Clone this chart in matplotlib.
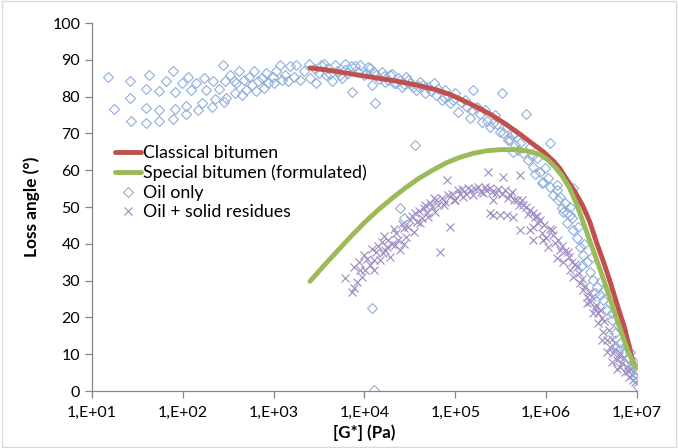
import numpy as np
import matplotlib
matplotlib.use("Agg")
import matplotlib.pyplot as plt
from matplotlib.ticker import FixedLocator, FuncFormatter, NullLocator

plt.rcParams['font.family'] = ['Lato', 'DejaVu Sans']

# lines, x given as log10(|G*| / Pa)
classical_log_g = [3.40, 3.60, 3.80, 4.00, 4.20, 4.40, 4.60, 4.80, 4.95, 5.10,
                   5.25, 5.40, 5.55, 5.70, 5.85, 5.97, 6.08, 6.15, 6.24, 6.32,
                   6.40, 6.48, 6.56, 6.64, 6.72, 6.80, 6.86, 6.92, 6.96]
classical_angle = [87.8, 87.2, 86.4, 85.6, 84.8, 84.0, 83.0, 81.8, 80.5, 78.8,
                   77.0, 75.0, 72.6, 70.0, 67.2, 65.0, 62.5, 60.5, 57.0, 54.0,
                   50.5, 46.0, 40.0, 34.5, 28.5, 22.0, 17.5, 11.5, 7.5]

special_log_g = [3.40, 3.55, 3.70, 3.85, 4.00, 4.15, 4.30, 4.45, 4.60, 4.75,
                 4.90, 5.05, 5.20, 5.35, 5.50, 5.65, 5.80, 5.93, 6.02, 6.10,
                 6.18, 6.26, 6.34, 6.42, 6.50, 6.58, 6.66, 6.74, 6.82, 6.90,
                 6.98]
special_angle = [29.8, 34.0, 38.0, 42.0, 45.8, 49.2, 52.3, 55.2, 57.8, 60.0,
                 62.0, 63.5, 64.6, 65.3, 65.6, 65.6, 65.2, 64.3, 62.8, 60.8,
                 58.3, 55.0, 50.5, 45.0, 39.5, 34.0, 28.3, 22.3, 16.5, 11.0,
                 6.5]

# Oil only (diamonds)
oil_log_g = [
    1.18, 1.24, 1.42, 1.42, 1.43, 1.59, 1.59, 1.59, 1.63, 1.74, 1.74, 1.74,
    1.81, 1.89, 1.91, 1.91, 1.89, 1.99, 2.06, 2.03, 2.03, 2.09, 2.15, 2.17,
    2.21, 2.23, 2.26, 2.32, 2.33, 2.35, 2.40, 2.44, 2.45, 2.46, 2.48, 2.52,
    2.56, 2.57, 2.59, 2.62, 2.65, 2.67, 2.70, 2.73, 2.76, 2.78, 2.81, 2.83,
    2.87, 2.89, 2.92, 2.94, 2.99, 3.00, 3.03, 3.07, 3.09, 3.13, 3.16, 3.18,
    3.22, 3.25, 3.29, 3.33, 3.39, 3.40, 3.47, 3.55, 3.58, 3.64, 3.68, 3.73,
    3.79, 3.79, 3.75, 3.86, 3.90, 3.95, 3.99, 4.06, 4.08, 4.12, 4.13, 4.19,
    4.23, 4.28, 4.32, 4.37, 4.41, 4.46, 4.50, 4.56, 4.57, 4.61, 4.67, 4.70,
    4.76, 4.79, 4.85, 4.89, 4.94, 5.00, 5.03, 5.11, 5.16, 5.20, 5.24, 5.29,
    5.33, 5.38, 5.44, 5.49, 5.51, 5.57, 5.60, 5.66, 5.64, 5.78, 6.04,
    3.45, 3.50, 3.52, 3.60, 3.62, 3.70, 3.82, 3.85, 3.93, 4.02, 4.04, 4.10,
    4.16, 4.21, 4.26, 4.30, 4.35, 4.39, 4.44, 4.48, 4.53, 4.59, 4.64, 4.73,
    4.81, 4.87, 4.92, 4.97, 5.06, 5.13, 5.18, 5.27, 5.35, 5.41, 5.46, 5.53,
    5.58, 5.66, 5.71, 5.75, 5.82, 5.80, 5.86, 5.90, 5.93, 5.99, 5.97, 6.02,
    6.04, 6.08, 6.12, 6.13, 6.17, 6.21, 6.23, 6.26, 6.28, 6.30, 5.95, 6.12,
    6.15, 6.19, 6.23, 6.30, 6.34, 6.37, 6.41, 6.39, 6.45, 6.48, 6.52, 6.56,
    6.54, 6.59, 6.63, 6.67, 6.72, 6.72, 6.76, 6.81, 6.85, 6.90, 6.96, 6.99,
    7.01, 6.98, 6.94, 6.77, 4.08, 4.10, 4.39, 4.43,
    6.35, 6.42, 6.50, 6.60, 6.65, 6.70, 6.79, 6.83, 6.88, 6.92, 6.97, 7.00,
    6.26, 5.88, 5.84, 5.69, 5.62,
]
oil_angle = [
    85.4, 76.6, 84.2, 79.6, 73.4, 82.0, 77.0, 72.9, 86.0, 81.5, 76.4, 73.4,
    84.2, 86.9, 81.3, 76.6, 73.8, 83.8, 85.4, 77.4, 75.4, 81.8, 83.8, 76.4,
    78.2, 85.0, 81.8, 77.3, 84.2, 79.3, 82.2, 88.6, 78.6, 84.2, 79.5, 85.9,
    84.2, 80.9, 83.7, 87.0, 80.4, 84.5, 81.8, 85.4, 83.2, 86.9, 81.4, 84.2,
    85.0, 82.3, 86.3, 83.8, 85.4, 83.7, 86.9, 88.6, 84.5, 85.9, 84.2, 88.2,
    85.4, 88.6, 84.5, 86.9, 89.0, 85.0, 83.7, 89.0, 85.9, 84.2, 88.6, 85.9,
    89.0, 87.2, 85.0, 81.3, 88.2, 88.6, 85.9, 87.7, 83.2, 78.2, 85.9, 86.8,
    84.1, 85.9, 83.6, 85.0, 82.7, 85.4, 83.6, 66.8, 81.8, 84.1, 80.9, 82.7,
    83.6, 80.4, 79.1, 81.8, 78.2, 80.9, 75.9, 79.1, 74.1, 81.8, 77.3, 73.2,
    76.4, 71.8, 75.0, 70.5, 80.9, 71.8, 68.2, 66.8, 65.0, 75.3, 67.3,
    87.5, 86.5, 88.5, 87.8, 86.2, 87.0, 86.5, 88.4, 86.8, 86.3, 88.0, 86.6,
    84.8, 85.5, 84.5, 86.2, 83.8, 84.6, 83.3, 84.4, 82.5, 82.9, 83.1, 81.5,
    82.1, 79.8, 80.2, 79.0, 78.5, 77.2, 76.5, 75.4, 73.5, 72.8, 72.5, 70.2,
    68.2, 70.0, 67.3, 64.6, 66.4, 62.8, 61.0, 63.2, 59.6, 60.5, 56.9, 57.8,
    55.5, 53.3, 54.6, 51.9, 49.6, 51.0, 48.3, 50.1, 46.9, 55.1, 56.4, 56.0,
    52.8, 48.7, 45.6, 43.8, 41.5, 39.2, 37.0, 34.2, 35.1, 32.4, 30.2, 28.3,
    26.5, 26.1, 24.7, 22.0, 21.1, 19.3, 15.7, 13.0, 10.2, 8.9, 6.6, 4.8,
    1.2, 3.5, 7.5, 12.0, 22.6, 0.3, 49.6, 46.9,
    44.5, 40.0, 36.5, 30.0, 27.5, 24.0, 18.0, 16.5, 12.5, 10.5, 8.0, 6.0,
    47.8, 59.0, 64.0, 65.5, 69.5,
]

# Oil + solid residues (crosses)
residue_log_g = [
    3.86, 3.88, 3.79, 3.88, 3.97, 3.99, 3.95, 4.06, 4.10, 4.17, 4.19, 4.13,
    4.23, 4.26, 4.28, 4.34, 4.35, 4.39, 4.43, 4.46, 4.50, 4.54, 4.56, 4.61,
    4.65, 4.70, 4.72, 4.78, 4.79, 4.83, 4.87, 4.91, 4.92, 4.94, 5.00, 5.03,
    5.09, 5.14, 5.20, 5.25, 5.31, 5.36, 5.38, 5.42, 5.45, 5.49, 5.53, 5.55,
    5.57, 5.71, 5.63, 5.71, 5.86, 5.97,
    5.34, 5.42, 5.38, 5.60, 5.68, 5.75, 5.82, 5.88, 5.82, 5.86, 5.91, 5.95,
    6.00, 6.06, 6.02, 6.10, 6.15, 6.12, 6.24, 6.19, 6.26, 6.30, 6.34, 6.37,
    6.41, 6.45, 6.48, 6.54, 6.57, 6.61,
    6.45, 6.52, 6.57, 6.63, 6.67, 6.70, 6.74, 6.78, 6.81, 6.87, 6.91, 6.96,
    6.61, 6.67, 6.72, 6.78, 6.89, 6.94, 6.81, 6.76,
    3.92, 3.94, 4.01, 4.03, 4.08, 4.11, 4.15, 4.20, 4.22, 4.25, 4.30, 4.32,
    4.37, 4.41, 4.44, 4.48, 4.52, 4.58, 4.60, 4.63, 4.67, 4.69, 4.74, 4.76,
    4.81, 4.85, 4.89, 4.96, 4.98, 5.05, 5.07, 5.12, 5.17, 5.22, 5.28, 5.33,
    5.40, 5.47, 5.51, 5.58, 5.62, 5.65, 5.70, 5.73, 5.78, 5.80, 5.85, 5.90,
    5.93, 5.98, 6.04, 6.08, 6.13, 6.17, 6.21, 6.25, 6.28, 6.32, 6.36, 6.39,
    6.43, 6.47, 6.50, 6.55, 6.59, 6.64, 6.69, 6.73, 6.76, 6.80, 6.84, 6.86,
    6.90, 6.93, 6.98,
]
residue_angle = [
    26.9, 27.9, 30.6, 33.8, 31.1, 37.0, 32.9, 34.2, 32.9, 35.6, 40.6, 37.9,
    38.3, 41.0, 36.5, 39.7, 42.9, 38.3, 44.2, 41.9, 46.5, 43.3, 48.3, 45.6,
    49.6, 47.4, 51.0, 48.7, 51.9, 37.9, 50.5, 57.3, 53.3, 44.7, 51.9, 54.6,
    52.8, 55.1, 53.3, 55.5, 53.7, 59.6, 55.1, 47.8, 53.7, 47.8, 58.2, 54.6,
    47.8, 58.7, 47.4, 43.8, 44.7, 41.0,
    54.6, 51.9, 48.3, 53.3, 51.9, 50.5, 49.2, 47.4, 43.8, 41.0, 45.6, 42.9,
    41.5, 43.8, 39.2, 40.1, 38.3, 36.1, 37.9, 35.1, 32.9, 31.1, 33.8, 29.3,
    27.4, 25.6, 24.3, 22.5, 21.1, 19.8,
    23.8, 21.1, 18.4, 16.1, 13.9, 12.0, 10.2, 8.4, 6.6, 5.2, 3.9, 3.0,
    13.9, 10.7, 8.0, 6.1, 6.6, 4.3, 10.2, 13.0,
    29.5, 35.0, 33.0, 36.0, 38.5, 35.5, 39.5, 37.5, 42.0, 39.0, 40.0, 44.0,
    41.0, 45.5, 40.0, 44.5, 47.5, 46.0, 49.0, 47.0, 50.5, 48.5, 50.0, 52.5,
    50.5, 52.5, 51.5, 53.5, 52.0, 53.5, 55.0, 53.5, 54.5, 54.8, 54.0, 55.5,
    54.0, 55.0, 53.5, 52.5, 54.0, 52.0, 50.5, 52.0, 50.0, 48.0, 48.5, 47.5,
    46.5, 45.0, 44.0, 42.5, 41.0, 39.5, 38.0, 36.5, 35.0, 34.5, 32.0, 30.5,
    28.5, 27.0, 25.5, 23.5, 22.0, 19.0, 16.5, 14.0, 11.5, 9.5, 7.5, 9.0,
    5.5, 6.0, 2.5,
]

decades = [1, 2, 3, 4, 5, 6, 7]

fig = plt.figure(figsize=(6.78, 4.48), dpi=100)
ax = fig.add_axes([0.1357, 0.1272, 0.8038, 0.8214])

oil_col = '#8EAEDB'
res_col = '#9C8AC0'

ax.plot(10 ** np.array(residue_log_g), residue_angle, linestyle='none',
        marker='x', markersize=6, markeredgewidth=0.8, color=res_col)
ax.plot(10 ** np.array(oil_log_g), oil_angle, linestyle='none',
        marker='D', markersize=5.4, markerfacecolor='none',
        markeredgewidth=0.8, markeredgecolor=oil_col)
l1, = ax.plot(10 ** np.array(classical_log_g), classical_angle,
              color='#C0504D', linewidth=3.5, solid_capstyle='round',
              solid_joinstyle='round')
l2, = ax.plot(10 ** np.array(special_log_g), special_angle,
              color='#9BBB59', linewidth=3.5, solid_capstyle='round',
              solid_joinstyle='round')

h3, = ax.plot([], [], linestyle='none', marker='D', markersize=5.4,
              markerfacecolor='none', markeredgewidth=0.8,
              markeredgecolor=oil_col)
h4, = ax.plot([], [], linestyle='none', marker='x', markersize=6,
              markeredgewidth=0.8, color=res_col)

ax.set_xscale('log')
ax.set_xlim(10 ** decades[0], 10 ** decades[-1])
ax.set_ylim(0, 100)
ax.xaxis.set_major_locator(FixedLocator([10.0 ** d for d in decades]))
ax.xaxis.set_minor_locator(NullLocator())
ax.xaxis.set_major_formatter(FuncFormatter(lambda v, p: '1,E+%02d' % round(np.log10(v))))
ax.set_yticks(range(0, 101, 10))

for s in ['top', 'right']:
    ax.spines[s].set_visible(False)
for s in ['left', 'bottom']:
    ax.spines[s].set_color('#868686')
    ax.spines[s].set_linewidth(0.9)
ax.tick_params(axis='both', colors='#868686', labelcolor='black',
               labelsize=11.5, length=5, width=0.9, direction='out')
ax.tick_params(axis='x', pad=6)

ax.set_xlabel('[G*] (Pa)', fontsize=12.2, fontweight='bold', labelpad=3)
ax.set_ylabel('Loss angle (°)', fontsize=12.4, fontweight='bold', labelpad=9)

ax.legend([l1, l2, h3, h4],
          ['Classical bitumen', 'Special bitumen (formulated)',
           'Oil only', 'Oil + solid residues'],
          loc='upper left', bbox_to_anchor=(0.025, 0.692), frameon=False,
          fontsize=12.8, handlelength=1.5, handletextpad=0.1,
          labelspacing=0.2, borderpad=0)

fig.patches.append(plt.Rectangle((0.003, 0.003), 0.994, 0.994,
                                 transform=fig.transFigure, fill=False,
                                 edgecolor='#D9D9D9', linewidth=1))

fig.savefig('out.png', dpi=100)
